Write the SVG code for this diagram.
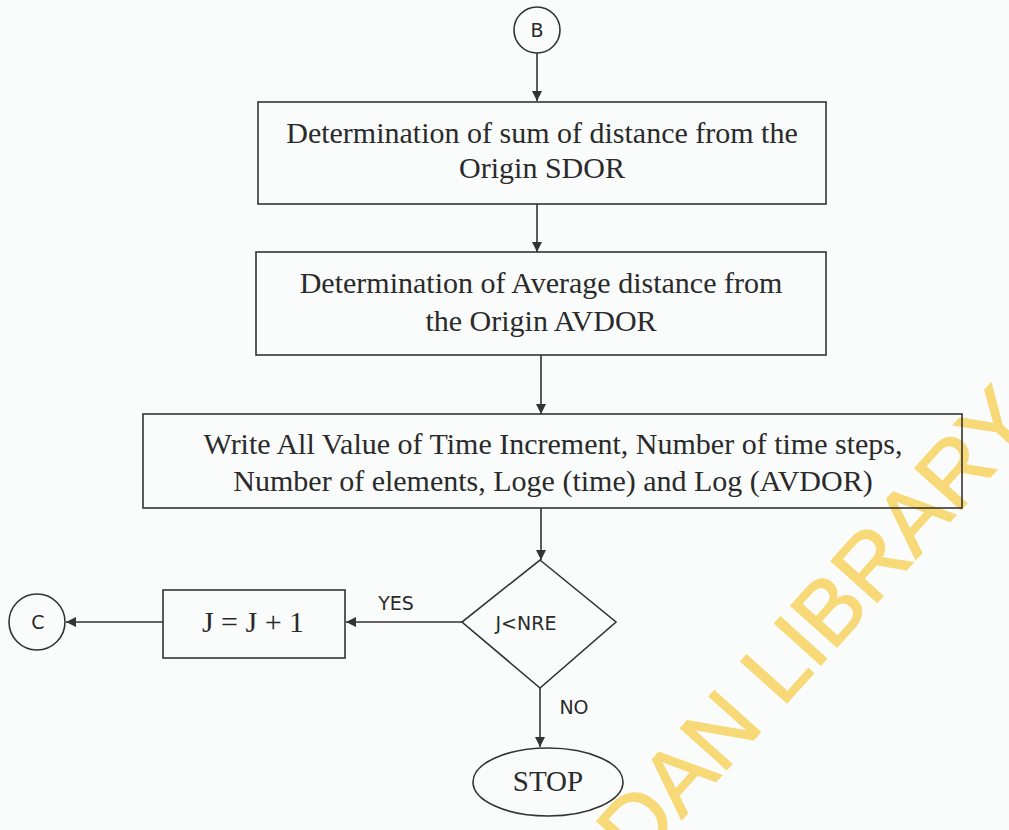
<svg xmlns="http://www.w3.org/2000/svg" width="1009" height="830" viewBox="0 0 1009 830">
<defs>
<style>
.shape{fill:none;stroke:#333;stroke-width:1.6}
.line{fill:none;stroke:#333;stroke-width:1.6}
.serif{font-family:"Liberation Serif","Times New Roman",serif;fill:#2a2a2a;text-anchor:middle}
.sans{font-family:"DejaVu Sans","Liberation Sans",sans-serif;fill:#2a2a2a;text-anchor:middle}
.wm{font-family:"Liberation Sans",Arial,sans-serif;fill:#f8d978;stroke:#f8d978;stroke-width:1.5;font-size:90px}
</style>
<marker id="ah" viewBox="0 0 10 10" refX="10" refY="5" markerWidth="10" markerHeight="10" markerUnits="userSpaceOnUse" orient="auto">
<path d="M0,0 L10,5 L0,10 z" fill="#333"/>
</marker>
</defs>
<rect width="1009" height="830" fill="#fafcfc"/>

<g id="watermark">
<text class="wm" transform="translate(638,868) rotate(-48)">DAN LIBRARY</text>
</g>

<g id="connectors">
<line class="line" x1="537" y1="53" x2="537" y2="101" marker-end="url(#ah)"/>
<line class="line" x1="537" y1="204" x2="537" y2="252" marker-end="url(#ah)"/>
<line class="line" x1="541" y1="355" x2="541" y2="414" marker-end="url(#ah)"/>
<line class="line" x1="541" y1="508" x2="541" y2="560" marker-end="url(#ah)"/>
<line class="line" x1="462" y1="622" x2="346" y2="622" marker-end="url(#ah)"/>
<text class="sans" x="396" y="610" font-size="19">YES</text>
<line class="line" x1="163" y1="622" x2="66" y2="622" marker-end="url(#ah)"/>
<line class="line" x1="540" y1="688" x2="540" y2="747" marker-end="url(#ah)"/>
<text class="sans" x="574" y="714" font-size="19">NO</text>
</g>

<g id="node-B">
<circle class="shape" cx="537" cy="30" r="23"/>
<text class="sans" x="537" y="37" font-size="19">B</text>
</g>

<g id="node-SDOR">
<rect class="shape" x="258" y="102" width="568" height="102"/>
<text class="serif" x="542" y="143" font-size="30">Determination of sum of distance from the</text>
<text class="serif" x="542" y="178" font-size="30">Origin SDOR</text>
</g>

<g id="node-AVDOR">
<rect class="shape" x="256" y="252" width="570" height="103"/>
<text class="serif" x="541" y="293" font-size="30">Determination of Average distance from</text>
<text class="serif" x="541" y="331" font-size="30">the Origin AVDOR</text>
</g>

<g id="node-write">
<rect class="shape" x="143" y="414" width="819" height="94"/>
<text class="serif" x="553" y="454" font-size="30">Write All Value of Time Increment, Number of time steps,</text>
<text class="serif" x="553" y="491" font-size="30">Number of elements, Loge (time) and Log (AVDOR)</text>
</g>

<g id="node-decision">
<polygon class="shape" points="540,560 616,622 540,688 462,622"/>
<text class="sans" x="526" y="630" font-size="19">J&lt;NRE</text>
</g>

<g id="node-increment">
<rect class="shape" x="163" y="590" width="182" height="68"/>
<text class="serif" x="253" y="632" font-size="30">J = J + 1</text>
</g>

<g id="node-C">
<circle class="shape" cx="37" cy="622" r="28"/>
<text class="sans" x="38" y="629" font-size="19">C</text>
</g>

<g id="node-STOP">
<ellipse class="shape" cx="548" cy="782" rx="75" ry="34"/>
<text class="serif" x="548" y="791" font-size="29">STOP</text>
</g>
</svg>
